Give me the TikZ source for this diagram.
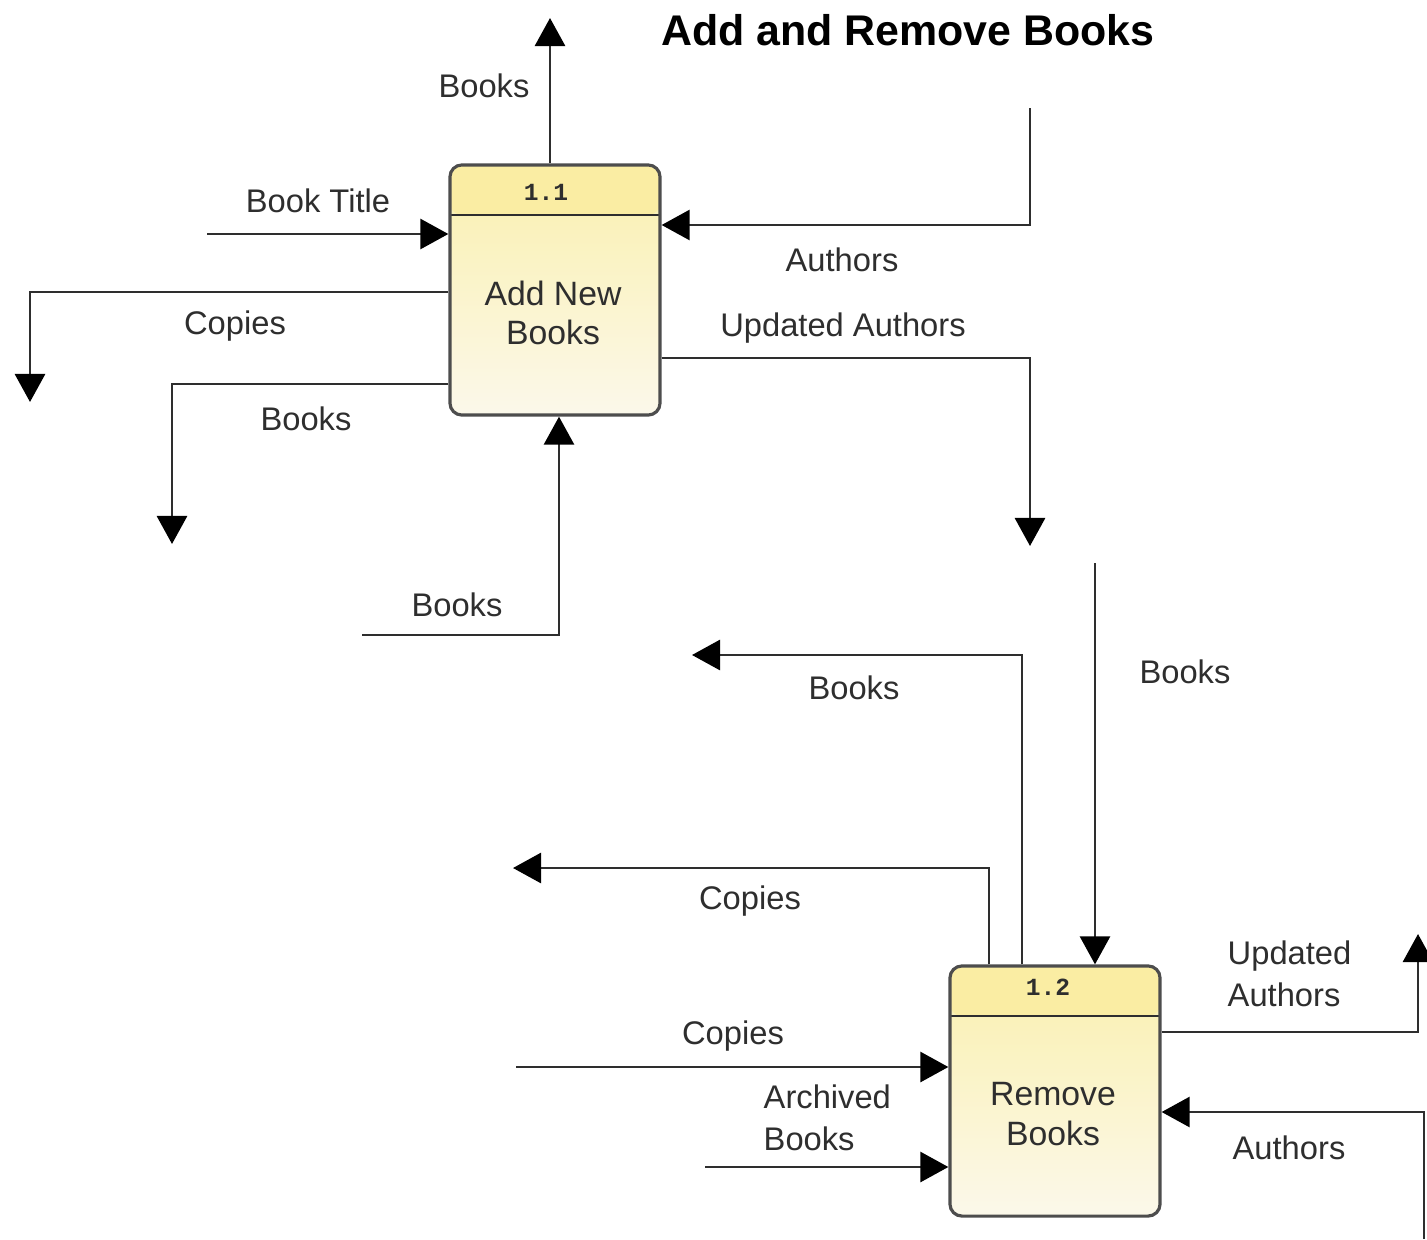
\documentclass[tikz,border=0pt]{standalone}
\usepackage{fontspec}
\setmainfont{Liberation Sans}
\newfontfamily\monofnt{Liberation Mono}
\usetikzlibrary{arrows.meta}
\definecolor{linec}{HTML}{2E2E2E}
\definecolor{txtc}{HTML}{2E2E2E}
\definecolor{hdrc}{HTML}{FAEDA3}
\definecolor{topc}{HTML}{FAF0AE}
\definecolor{botc}{HTML}{FBF8EA}
\tikzset{
  flow/.style={draw=linec, line width=0.8pt, -{Triangle[length=0.28cm, width=0.30cm, color=black, fill=black]}},
  lbl/.style={text=txtc, font=\fontsize{9.3}{12}\selectfont, inner sep=0pt},
  procbox/.style={draw=linec!85, line width=0.9pt, rounded corners=0.12cm,
    minimum width=2.1cm, minimum height=2.5cm, top color=topc, bottom color=botc,
    inner sep=0pt,
    path picture={\fill[hdrc] (path picture bounding box.north west) rectangle ([yshift=-0.5cm]path picture bounding box.north east);
      \draw[linec, line width=0.8pt] ([yshift=-0.5cm]path picture bounding box.north west) -- ([yshift=-0.5cm]path picture bounding box.north east);}},
  idlbl/.style={text=txtc, font=\monofnt\bfseries\fontsize{7}{8}\selectfont, inner sep=0pt},
  boxtxt/.style={text=txtc, font=\fontsize{9.6}{11.2}\selectfont, align=center, inner sep=0pt}
}
\begin{document}
\begin{tikzpicture}[x=0.01cm, y=-0.01cm]
\useasboundingbox (0,0) rectangle (1427,1239);
% boxes
\node[procbox] (b1) at (555,290) {};
\node[procbox] (b2) at (1055,1091) {};
\node[idlbl] (id1) at (546,192) {1.1};
\node[idlbl] (id2) at (1048,987) {1.2};
\node[boxtxt] (t1) at (553,313) {Add New\\Books};
\node[boxtxt] (t2) at (1053,1114) {Remove\\Books};
% title
\node[text=black, font=\bfseries\fontsize{12.2}{14}\selectfont, inner sep=0pt] (title) at (908,30) {Add and Remove Books};
% free-end coordinates
\coordinate (u1) at (550,18);
\coordinate (s2) at (207,234);
\coordinate (s3) at (1030,108);
\coordinate (k3) at (1030,225);
\coordinate (k4) at (30,292);
\coordinate (e4) at (30,402);
\coordinate (k5) at (172,384);
\coordinate (e5) at (172,544);
\coordinate (s6) at (362,635);
\coordinate (k6) at (559,635);
\coordinate (k7) at (1030,358);
\coordinate (e7) at (1030,546);
\coordinate (s8) at (1095,563);
\coordinate (k9) at (1022,655);
\coordinate (e9) at (692,655);
\coordinate (k10) at (989,868);
\coordinate (e10) at (513,868);
\coordinate (s11) at (516,1067);
\coordinate (s12) at (705,1167);
\coordinate (k13) at (1418,1032);
\coordinate (e13) at (1418,934);
\coordinate (s14) at (1424,1239);
\coordinate (k14) at (1424,1112);
% connectors
\draw[flow] (b1.north -| u1) -- (u1);
\draw[flow] (s2) -- (b1.west |- s2);
\draw[flow] (s3) -- (k3) -- (b1.east |- k3);
\draw[flow] (b1.west |- k4) -- (k4) -- (e4);
\draw[flow] (b1.west |- k5) -- (k5) -- (e5);
\draw[flow] (s6) -- (k6) -- (b1.south -| k6);
\draw[flow] (b1.east |- k7) -- (k7) -- (e7);
\draw[flow] (s8) -- (b2.north -| s8);
\draw[flow] (b2.north -| k9) -- (k9) -- (e9);
\draw[flow] (b2.north -| k10) -- (k10) -- (e10);
\draw[flow] (s11) -- (b2.west |- s11);
\draw[flow] (s12) -- (b2.west |- s12);
\draw[flow] (b2.east |- k13) -- (k13) -- (e13);
\draw[flow] (s14) -- (k14) -- (b2.east |- k14);
% labels
\node[lbl] (l1) at (484,86) {Books};
\node[lbl] (l2) at (318,201) {Book Title};
\node[lbl] (l3) at (842,260) {Authors};
\node[lbl] (l4) at (235,326) {Copies};
\node[lbl] (l5) at (306,419) {Books};
\node[lbl] (l6) at (457,605) {Books};
\node[lbl] (l7) at (843,328) {Updated Authors};
\node[lbl] (l8) at (1185,672) {Books};
\node[lbl] (l9) at (854,688) {Books};
\node[lbl] (l10) at (750,901) {Copies};
\node[lbl] (l11) at (733,1036) {Copies};
\node[lbl, align=left, anchor=west] (l12) at (763,1118) {Archived\\Books};
\node[lbl, align=left, anchor=west] (l13) at (1227,974) {Updated\\Authors};
\node[lbl] (l14) at (1289,1148) {Authors};
\end{tikzpicture}
\end{document}
